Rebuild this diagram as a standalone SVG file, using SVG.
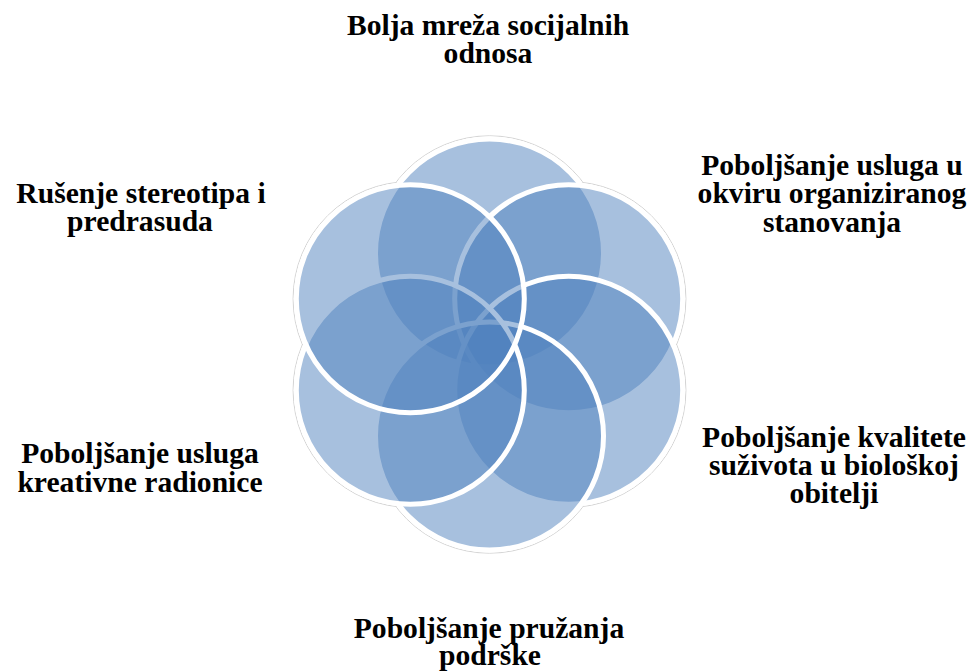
<svg xmlns="http://www.w3.org/2000/svg" width="977" height="671" viewBox="0 0 977 671">
  <style>
    .c { fill: #4F81BD; fill-opacity: 0.5; stroke: #FFFFFF; stroke-width: 5; }
    .halo { fill: #FFFFFF; stroke: #D4D4D4; stroke-width: 1; }
    .mask { fill: #FFFFFF; stroke: none; }
    .t { font-family: "Liberation Serif", "Times New Roman", serif; font-weight: bold; font-size: 29.6px; fill: #000000; text-anchor: middle; }
  </style>
  <rect width="977" height="671" fill="#FFFFFF"/>
  <g id="outline">
    <circle class="halo" cx="489.5" cy="253" r="117.2"/>
    <circle class="halo" cx="568.7" cy="298.75" r="117.2"/>
    <circle class="halo" cx="568.7" cy="390.25" r="117.2"/>
    <circle class="halo" cx="489.5" cy="436" r="117.2"/>
    <circle class="halo" cx="410.3" cy="390.25" r="117.2"/>
    <circle class="halo" cx="410.3" cy="298.75" r="117.2"/>
    <circle class="mask" cx="489.5" cy="253" r="116.6"/>
    <circle class="mask" cx="568.7" cy="298.75" r="116.6"/>
    <circle class="mask" cx="568.7" cy="390.25" r="116.6"/>
    <circle class="mask" cx="489.5" cy="436" r="116.6"/>
    <circle class="mask" cx="410.3" cy="390.25" r="116.6"/>
    <circle class="mask" cx="410.3" cy="298.75" r="116.6"/>
  </g>
  <g id="node-top">
    <circle class="c" cx="489.5" cy="253" r="114"/>
    <text class="t" x="488" y="35">Bolja mreža socijalnih</text>
    <text class="t" x="488" y="63">odnosa</text>
  </g>
  <g id="node-upper-right">
    <circle class="c" cx="568.7" cy="298.75" r="114"/>
    <text class="t" x="832" y="175">Poboljšanje usluga u</text>
    <text class="t" x="832" y="203">okviru organiziranog</text>
    <text class="t" x="832" y="232">stanovanja</text>
  </g>
  <g id="node-lower-right">
    <circle class="c" cx="568.7" cy="390.25" r="114"/>
    <text class="t" x="834" y="447">Poboljšanje kvalitete</text>
    <text class="t" x="834" y="475">suživota u biološkoj</text>
    <text class="t" x="834" y="503">obitelji</text>
  </g>
  <g id="node-bottom">
    <circle class="c" cx="489.5" cy="436" r="114"/>
    <text class="t" x="489" y="638">Poboljšanje pružanja</text>
    <text class="t" x="490" y="665">podrške</text>
  </g>
  <g id="node-lower-left">
    <circle class="c" cx="410.3" cy="390.25" r="114"/>
    <text class="t" x="140" y="463">Poboljšanje usluga</text>
    <text class="t" x="140" y="492">kreativne radionice</text>
  </g>
  <g id="node-upper-left">
    <circle class="c" cx="410.3" cy="298.75" r="114"/>
    <text class="t" x="141" y="203">Rušenje stereotipa i</text>
    <text class="t" x="140" y="231">predrasuda</text>
  </g>
  <g id="connectors"/>
</svg>
